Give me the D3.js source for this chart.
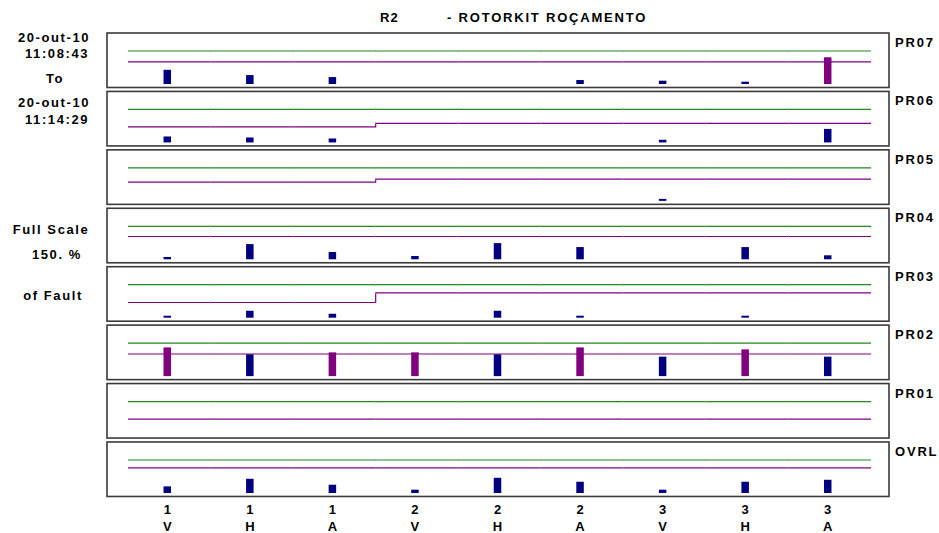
<!DOCTYPE html>
<html><head><meta charset="utf-8">
<script src="https://cdn.jsdelivr.net/npm/d3@7"></script>
<style>
body{margin:0;background:#fff;}
text{font-family:"Liberation Sans",Arial,sans-serif;font-weight:bold;font-size:13px;fill:#000;}
</style></head>
<body><svg id="c" width="939" height="533"></svg>
<script>
// ---- data ----
const points = ["1","1","1","2","2","2","3","3","3"];
const directions = ["V","H","A","V","H","A","V","H","A"];
const panels = ["PR07","PR06","PR05","PR04","PR03","PR02","PR01","OVRL"];
const alarmLevel = [100,100,100,100,100,100,100,100];
const alertPR07 = [67,67,67,67,67,67,67,67,67];
const alertPR06 = [47,47,47,58,58,58,58,58,58];
const alertPR05 = [57,57,57,66,66,66,66,66,66];
const alertPR04 = [69,69,69,69,69,69,69,69,69];
const alertPR03 = [46,46,46,75,75,75,75,75,75];
const alertPR02 = [67,67,67,67,67,67,67,67,67];
const alertPR01 = [47,47,47,47,47,47,47,47,47];
const alertOVRL = [76,76,76,76,76,76,76,76,76];
const valPR07 = [43,27,21,0,0,12,10,7,81];
const valPR06 = [18,15,12,0,0,0,8,0,41];
const valPR05 = [0,0,0,0,0,0,6,0,0];
const valPR04 = [7,46,22,10,49,37,0,37,12];
const valPR03 = [6,21,12,0,21,6,0,6,0];
const valPR02 = [87,66,72,72,66,87,59,81,59];
const valPR01 = [0,0,0,0,0,0,0,0,0];
const valOVRL = [20,43,25,10,46,34,10,34,40];
const titleId = "R2";
const titleName = "- ROTORKIT ROÇAMENTO";
const leftTexts = ["20-out-10","11:08:43","To","20-out-10","11:14:29","Full Scale","150. %","of Fault"];

const alerts = [alertPR07,alertPR06,alertPR05,alertPR04,alertPR03,alertPR02,alertPR01,alertOVRL];
const values = [valPR07,valPR06,valPR05,valPR04,valPR03,valPR02,valPR01,valOVRL];

const svg = d3.select("#c");
const idx = d3.range(points.length);
const x = d3.scaleBand().domain(idx).range([126, 869]);
const panelTop = d3.scaleLinear().domain([0, panels.length]).range([33, 500.4]);
const panelH = 54.5;
const y = d3.scaleLinear().domain([0, 150]).range([51, 1.5]);
const barW = 7.5;
const left = 107, right = 889;
const lineOff = 2;
const LS = "1.6px";

// title
svg.append("text").attr("x", 380).attr("y", 22).style("letter-spacing","1px").text(titleId);
svg.append("text").attr("x", 447).attr("y", 22).style("letter-spacing","1.8px").text(titleName);

// left texts
const leftY = [42, 58, 83, 107, 124, 234, 259, 300];
const leftX = [54, 57, 55, 54, 57, 51, 57, 53];
leftTexts.forEach((t,i)=>{
  svg.append("text").attr("x", leftX[i]).attr("y", leftY[i]).attr("text-anchor","middle")
    .style("letter-spacing",LS).text(t);
});

panels.forEach((p, pi) => {
  const g = svg.append("g").attr("transform", `translate(0,${panelTop(pi)})`);
  g.append("rect").attr("x", left).attr("y", 0).attr("width", right-left).attr("height", panelH)
    .attr("fill","none").attr("stroke","#3a3a3a").attr("stroke-width",1.6);
  // alarm line
  const x0 = x.range()[0] + lineOff, x1 = x.range()[1] + lineOff;
  g.append("line").attr("x1", x0).attr("x2", x1)
    .attr("y1", y(alarmLevel[pi])).attr("y2", y(alarmLevel[pi]))
    .attr("stroke","#1f8a1f").attr("stroke-width",1.2);
  // alert step line
  const pts = idx.map(i => [x(i) + lineOff, y(alerts[pi][i])]);
  pts.push([x1, y(alerts[pi][idx.length-1])]);
  g.append("path").attr("d", d3.line().curve(d3.curveStepAfter)(pts))
    .attr("fill","none").attr("stroke","#800080").attr("stroke-width",1.2);
  // small tick marks at boundaries
  idx.slice(1).forEach(i=>{
    [alarmLevel[pi], alerts[pi][i]].forEach(v=>{
      g.append("line").attr("x1", x(i)+lineOff).attr("x2", x(i)+lineOff)
        .attr("y1", y(v)-1).attr("y2", y(v)+1).attr("stroke", "#999").attr("stroke-width",0.8);
    });
  });
  // bars
  g.selectAll("rect.bar").data(idx.filter(i => values[pi][i] > 0)).enter().append("rect")
    .attr("class","bar")
    .attr("x", i => x(i) + x.bandwidth()/2 - barW/2)
    .attr("y", i => y(values[pi][i]))
    .attr("width", barW)
    .attr("height", i => y(0) - y(values[pi][i]))
    .attr("fill", i => values[pi][i] > alerts[pi][i] ? "#800080" : "#000080");
  // right label
  g.append("text").attr("x", 895).attr("y", 14).style("letter-spacing","1.8px").text(p);
});

// bottom labels
const lab = svg.append("g");
idx.forEach(i=>{
  const cx = x(i) + x.bandwidth()/2;
  lab.append("text").attr("x", cx).attr("y", 514).attr("text-anchor","middle").text(points[i]);
  lab.append("text").attr("x", cx).attr("y", 531).attr("text-anchor","middle").text(directions[i]);
});
</script></body></html>
